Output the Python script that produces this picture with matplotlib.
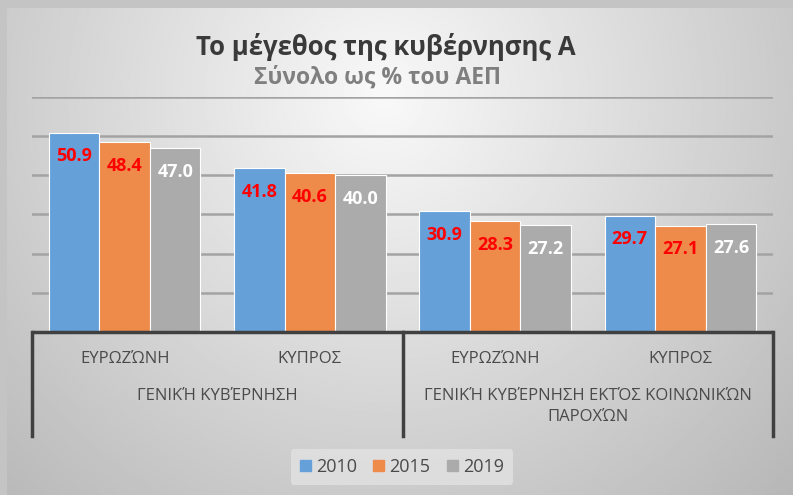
import matplotlib
matplotlib.use('Agg')
import matplotlib.pyplot as plt
import matplotlib.patches as mpatches
import matplotlib.transforms as mtransforms
import numpy as np

plt.rcParams['font.family'] = ['Open Sans', 'DejaVu Sans']

# Dedomena
years = ['2010', '2015', '2019']
countries = ['ΕΥΡΩΖΏΝΗ', 'ΚΥΠΡΟΣ', 'ΕΥΡΩΖΏΝΗ', 'ΚΥΠΡΟΣ']
groups = ['ΓΕΝΙΚΉ ΚΥΒΈΡΝΗΣΗ', 'ΓΕΝΙΚΉ ΚΥΒΈΡΝΗΣΗ ΕΚΤΌΣ ΚΟΙΝΩΝΙΚΏΝ\nΠΑΡΟΧΏΝ']
v2010 = [50.9, 41.8, 30.9, 29.7]
v2015 = [48.4, 40.6, 28.3, 27.1]
v2019 = [47.0, 40.0, 27.2, 27.6]
series = [v2010, v2015, v2019]

colors = ['#66a0d8', '#ee8a4a', '#ababab']
label_colors = ['#FF0000', '#FF0000', 'white']

W, H = 793, 495
fig = plt.figure(figsize=(W / 100, H / 100), dpi=100, facecolor='#c4c4c4')

# fondo con gradiente radial (como en excel)
bg = fig.add_axes([7 / W, 0, (W - 7) / W, (H - 8) / H], zorder=-5)
yy, xx = np.mgrid[0:1:300j, 0:1:400j]
d = np.sqrt(((xx - 0.48) / 0.62) ** 2 + ((yy - 0.18) / 1.0) ** 2)
val = np.clip(0.975 - 0.22 * d, 0, 1)
bg.imshow(val, cmap='gray', vmin=0, vmax=1, aspect='auto',
          extent=[0, 1, 1, 0], interpolation='bilinear')
bg.axis('off')

# ejes principales
left, right, base, top = 32, 773, 332, 97
ax = fig.add_axes([left / W, (H - base) / H, (right - left) / W, (base - top) / H])
ax.set_facecolor('none')

x = np.arange(len(countries))
bw = 0.273
for i, (vals, c) in enumerate(zip(series, colors)):
    bars = ax.bar(x + (i - 1) * bw, vals, bw, color=c, edgecolor='white',
                  linewidth=0.8, zorder=3, label=years[i])
    for b, v in zip(bars, vals):
        ax.annotate(f'{v:.1f}', (b.get_x() + b.get_width() / 2, v),
                    xytext=(0, -17), textcoords='offset points',
                    ha='center', va='center', fontsize=13,
                    fontweight='bold', color=label_colors[i], zorder=4)

ax.set_xlim(-0.5, 3.5)
ax.set_ylim(0, 60)
ax.set_yticks(np.arange(10, 61, 10))
ax.yaxis.grid(True, color='#a3a3a3', linewidth=1.8, zorder=0)
ax.tick_params(left=False, bottom=False, labelleft=False, labelbottom=False)
for s in ax.spines.values():
    s.set_visible(False)

# eje de categorias jerarquico
trans = mtransforms.blended_transform_factory(ax.transData, ax.transAxes)
ybot = (base - 436) / (base - top)
ax.plot([-0.5, 3.5], [0, 0], transform=trans, color='#404040', lw=2.5,
        clip_on=False, zorder=5, solid_capstyle='butt')
for xv in [-0.5, 1.5, 3.5]:
    ax.plot([xv, xv], [0, ybot], transform=trans, color='#404040', lw=2.5,
            clip_on=False, zorder=5)

for xi, name in zip(x, countries):
    ax.text(xi, (base - 359) / (base - top), name, transform=trans,
            ha='center', va='center', fontsize=12, color='#4a4a4a')
for gx, g in zip([0.5, 2.5], groups):
    ax.text(gx, (base - 388) / (base - top), g, transform=trans,
            ha='center', va='top', fontsize=12, color='#4a4a4a',
            linespacing=1.4)

# titulos
fig.text(386 / W, 1 - 47 / H, 'Το μέγεθος της κυβέρνησης Α', ha='center',
         va='center', fontsize=18.5, fontweight='bold', color='#3a3a3a')
fig.text(377 / W, 1 - 78 / H, 'Σύνολο ως % του ΑΕΠ', ha='center',
         va='center', fontsize=16.5, fontweight='bold', color='#7f7f7f')

handles = [mpatches.Patch(color=c, label=y) for c, y in zip(colors, years)]
leg = fig.legend(handles=handles, loc='center', bbox_to_anchor=(402 / W, 1 - 467 / H),
                 ncol=3, frameon=True, fontsize=13, handlelength=0.6,
                 handleheight=0.6, handletextpad=0.3, columnspacing=0.9,
                 borderpad=0.5, labelcolor='#4a4a4a')
leg.get_frame().set_facecolor('#e2e2e2')
leg.get_frame().set_edgecolor('none')
leg.get_frame().set_alpha(0.8)

plt.savefig('out.png', dpi=100, facecolor=fig.get_facecolor())
